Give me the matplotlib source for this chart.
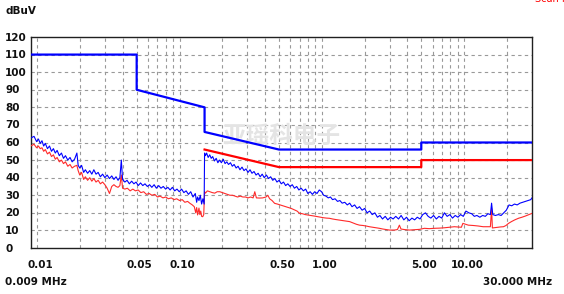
import matplotlib
matplotlib.use('Agg')
import matplotlib.pyplot as plt
from matplotlib import transforms

plt.rcParams['font.family'] = ['DejaVu Sans', 'Noto Sans CJK SC']

# 限值线 (频率 MHz, dBuV)
lim_qp_f = [0.009, 0.05, 0.05, 0.15, 0.15, 0.5, 5, 5, 30]
lim_qp_v = [110, 110, 90, 80, 66, 56, 56, 60, 60]
lim_av_f = [0.15, 0.5, 5, 5, 30]
lim_av_v = [56, 46, 46, 50, 50]

# 峰值扫描 (蓝)
pk_f = [0.009, 0.0095, 0.0099, 0.0102, 0.0105, 0.0108, 0.0111, 0.0114, 0.0118, 0.0122,
        0.0126, 0.0130, 0.0134, 0.0138, 0.0143, 0.0148, 0.0153, 0.0158, 0.0164, 0.0170,
        0.0176, 0.0183, 0.0190, 0.0194, 0.0199, 0.0205, 0.0212, 0.0218, 0.0226, 0.0234,
        0.0242, 0.0250, 0.0259, 0.0268, 0.0278, 0.0288, 0.0299, 0.0310, 0.0322, 0.0334,
        0.0346, 0.0358, 0.0370, 0.0381, 0.0390, 0.0398, 0.0413, 0.0428, 0.0444, 0.0461,
        0.0478, 0.0495, 0.0513, 0.0532, 0.0552, 0.0572, 0.0594, 0.0616, 0.0639, 0.0663,
        0.0688, 0.0714, 0.0741, 0.0769, 0.0798, 0.0828, 0.0859, 0.0891, 0.0925, 0.0960,
        0.0996, 0.1034, 0.1073, 0.1113, 0.1155, 0.1199, 0.1244, 0.1291, 0.1320, 0.1340,
        0.1370, 0.1400, 0.1430, 0.1460, 0.1490, 0.1500, 0.152, 0.155, 0.159, 0.163,
        0.167, 0.171, 0.176, 0.181, 0.186, 0.191, 0.197, 0.203, 0.209, 0.215,
        0.221, 0.228, 0.235, 0.242, 0.250, 0.258, 0.266, 0.275, 0.284, 0.293,
        0.303, 0.313, 0.323, 0.334, 0.345, 0.357, 0.369, 0.381, 0.394, 0.408,
        0.422, 0.437, 0.452, 0.468, 0.484, 0.501, 0.519, 0.538, 0.557, 0.577,
        0.598, 0.620, 0.642, 0.666, 0.690, 0.716, 0.742, 0.770, 0.798, 0.828,
        0.859, 0.891, 0.925, 0.96, 0.996, 1.03, 1.07, 1.11, 1.15, 1.19,
        1.24, 1.29, 1.34, 1.39, 1.45, 1.51, 1.57, 1.63, 1.70, 1.77,
        1.84, 1.92, 2.00, 2.08, 2.17, 2.26, 2.36, 2.46, 2.56, 2.67,
        2.79, 2.91, 3.04, 3.17, 3.31, 3.46, 3.61, 3.77, 3.94, 4.11,
        4.30, 4.49, 4.69, 4.90, 5.12, 5.35, 5.59, 5.84, 6.10, 6.38,
        6.66, 6.96, 7.27, 7.60, 7.94, 8.29, 8.66, 9.05, 9.45, 9.87,
        10.3, 10.8, 11.3, 11.8, 12.3, 12.9, 13.5, 14.1, 14.7, 15.3,
        15.6, 15.9, 16.6, 17.4, 18.2, 19.0, 19.8, 20.7, 21.6, 22.6,
        23.6, 24.7, 25.8, 27.0, 28.2, 29.4, 30.0]
pk_v = [62.5, 63.5, 60.5, 62, 59.5, 61, 58, 59.5, 56.5, 58,
        55, 56.5, 54, 55.5, 52.5, 54, 51, 52.5, 50, 51.5,
        49, 50.5, 54, 47, 45.5, 47, 43, 44.5, 42.5, 44,
        42, 44.5, 42, 43, 40.5, 42, 40, 41.5, 39.5, 41,
        39, 40.5, 38.5, 40, 50, 39, 37.5, 38.5, 36.5, 38,
        36.5, 37.5, 35.5, 37, 35.5, 36.5, 35, 36, 34.5, 36,
        34, 35.5, 34, 35, 33.5, 34.5, 33, 34.5, 32.5, 33.5,
        32, 33.5, 31.5, 32.5, 30.5, 32, 29, 31, 26, 29,
        27, 30, 25, 28, 25, 54, 52.5, 54, 51.5, 53,
        51, 52, 49.5, 51, 48.5, 50, 48.5, 50.5, 48, 49,
        47.5, 48.5, 46.5, 47.5, 45.5, 46.5, 44.5, 46, 44, 45,
        43, 44.5, 42.5, 43.5, 41.5, 42.5, 40.5, 42, 40, 41.5,
        39.5, 40.5, 38.5, 39.5, 37.5, 38.5, 36.5, 37.5, 35.5, 36.5,
        35, 36, 34, 35, 33, 34, 32.5, 33.5, 31, 32,
        30.5, 32, 31, 33, 32, 30, 29.5, 28.5, 29, 27.5,
        28, 26.5, 27, 25.5, 26, 24.5, 25.5, 23.5, 24.5, 22.5,
        23.5, 21.5, 22.5, 20, 21, 19, 20, 17.5, 18.5, 16.5,
        18, 16, 17.5, 16.5, 18, 16.5, 18.5, 16, 17.5, 15.5,
        17, 16, 17.5, 16.5, 19, 20, 18, 17, 18.5, 16.5,
        18, 17, 20, 18, 19, 17, 18.5, 17.5, 19, 18,
        21, 20, 19.5, 18, 18.5, 17.5, 18.5, 18, 19.5, 19,
        25.5, 19, 18.5, 19, 18.5, 20, 21.5, 24.5, 24, 25,
        24.5, 25.5, 26, 26.5, 27, 27.5, 28.5]

# 平均值扫描 (红)
av_f = [0.009, 0.0095, 0.0099, 0.0102, 0.0105, 0.0108, 0.0111, 0.0114, 0.0118, 0.0122,
        0.0126, 0.0130, 0.0134, 0.0138, 0.0143, 0.0148, 0.0153, 0.0158, 0.0164, 0.0170,
        0.0176, 0.0183, 0.0190, 0.0194, 0.0199, 0.0205, 0.0212, 0.0218, 0.0226, 0.0234,
        0.0242, 0.0250, 0.0259, 0.0268, 0.0278, 0.0288, 0.0299, 0.0310, 0.0322, 0.0334,
        0.0346, 0.0358, 0.0370, 0.0381, 0.0390, 0.0398, 0.0413, 0.0430, 0.0450, 0.0470,
        0.0490, 0.0512, 0.0535, 0.0560, 0.0585, 0.0612, 0.0640, 0.0670, 0.0700, 0.0730,
        0.0765, 0.0800, 0.0835, 0.0875, 0.0915, 0.0955, 0.1000, 0.1045, 0.1090, 0.1140,
        0.1180, 0.1230, 0.1270, 0.1300, 0.1320, 0.1340, 0.1370, 0.1390, 0.1410, 0.1430,
        0.1456, 0.1480, 0.1500, 0.152, 0.157, 0.163, 0.170, 0.177, 0.184, 0.192,
        0.200, 0.208, 0.217, 0.226, 0.236, 0.246, 0.256, 0.267, 0.279, 0.291,
        0.303, 0.316, 0.329, 0.338, 0.347, 0.366, 0.385, 0.405, 0.417, 0.430,
        0.447, 0.466, 0.487, 0.510, 0.533, 0.557, 0.583, 0.610, 0.644, 0.670,
        0.698, 0.730, 0.765, 0.800, 0.840, 0.880, 0.934, 0.98, 1.03, 1.08,
        1.13, 1.19, 1.25, 1.33, 1.40, 1.48, 1.57, 1.66, 1.75, 1.84,
        1.95, 2.05, 2.16, 2.28, 2.40, 2.54, 2.68, 2.83, 2.99, 3.24,
        3.40, 3.51, 3.60, 3.80, 4.13, 4.50, 4.86, 5.26, 5.70, 6.19,
        6.70, 7.27, 7.90, 8.54, 9.20, 9.57, 9.80, 10.7, 11.6, 12.6,
        13.6, 14.5, 15.3, 15.6, 15.8, 16.5, 17.4, 18.1, 18.9, 19.7,
        20.5, 21.5, 22.7, 24.1, 25.5, 27.0, 28.5, 30.0]
av_v = [58, 59, 57, 58, 56.5, 57, 55, 56, 53.5, 54.5,
        52, 53, 50.5, 51.5, 49, 50, 48, 49, 46.5, 47.5,
        45.5, 46.5, 47, 44, 41.5, 43, 39, 40.5, 38.5, 40,
        38, 39.5, 37.5, 38.5, 36.5, 37.5, 36, 34, 31, 35,
        36, 35, 34.5, 35.5, 41.5, 34, 33.5, 34, 32.5, 33.5,
        32.5, 33, 31.5, 32, 30.5, 31, 30, 30.5, 29, 29.5,
        28.5, 29, 28, 28.5, 27.5, 28, 27, 27.5, 26, 26.5,
        25.5, 24.5, 23.5, 20, 23, 18.8, 22.7, 19, 21, 18,
        17.8, 19, 32, 31.2, 32.5, 32, 31.5, 31.2, 32, 32,
        31.5, 31, 30.5, 30, 30, 29.5, 29, 29.5, 29, 29,
        28.5, 29, 28.5, 32, 28.5, 28.4, 28.5, 29, 30, 28,
        27, 25.4, 25, 24.5, 24, 23.5, 23, 22.5, 21.6, 21,
        19.7, 19.5, 19, 18.75, 18.5, 18.2, 17.8, 17.5, 17.2, 17,
        16.9, 16.5, 16.2, 15.9, 15.6, 15.3, 15, 14.2, 13.5, 13,
        12.8, 12.5, 12.1, 11.8, 11.5, 11.2, 10.8, 10.5, 10.2, 10.2,
        10.5, 13, 10.8, 10.5, 10.2, 10.4, 10.6, 11.2, 11, 11.2,
        11.3, 11.5, 11.8, 12.1, 11.9, 11.8, 14, 13, 12.8, 12.5,
        12.1, 12.1, 12.1, 22.5, 11.4, 11.6, 11.8, 12, 12.1, 12.8,
        14, 15, 16, 16.9, 17.5, 18.2, 19, 19.7]

y_levels = [0, 10, 20, 30, 40, 50, 60, 70, 80, 90, 100, 110, 120]
grid_f = [0.01, 0.02, 0.03, 0.04, 0.05, 0.06, 0.07, 0.08, 0.09,
          0.1, 0.2, 0.3, 0.4, 0.5, 0.6, 0.7, 0.8, 0.9,
          1, 2, 3, 4, 5, 6, 7, 8, 9, 10, 20]
xtick_f = [0.01, 0.05, 0.1, 0.5, 1, 5, 10]
xtick_lab = ['0.01', '0.05', '0.10', '0.50', '1.00', '5.00', '10.00']

fig = plt.figure(figsize=(5.64, 2.94), dpi=100)
ax = fig.add_axes([30.7 / 564, 1 - 248 / 294, (532 - 30.7) / 564, (248 - 37) / 294])
ax.set_xscale('log')
ax.set_xlim(0.009, 30)
ax.set_ylim(0, 120)
ax.set_xticks([])
ax.set_yticks([])
ax.minorticks_off()
for s in ax.spines.values():
    s.set_color('#202020')
    s.set_linewidth(1.0)

# 网格
for f in grid_f:
    ax.axvline(f, color='#999999', lw=0.8, ls=(0, (3, 3)), zorder=1)
for v in y_levels[1:-1]:
    ax.axhline(v, color='#999999', lw=0.8, ls=(0, (3, 3)), zorder=1)

# 水印
ax.text(0.5, 0.53, '亚瑶科电子', transform=ax.transAxes, fontsize=17, fontweight='bold',
        color='#e4e4e4', ha='center', va='center', family=['Noto Sans CJK SC'], zorder=2)

ax.plot(av_f, av_v, color='#ff2a2a', lw=0.8, zorder=3)
ax.plot(pk_f, pk_v, color='#0000ff', lw=0.8, zorder=4)
ax.plot(lim_av_f, lim_av_v, color='#ff0000', lw=1.6, zorder=5)
ax.plot(lim_qp_f, lim_qp_v, color='#0000ff', lw=1.6, zorder=5)

# 坐标标签
ytrans = transforms.blended_transform_factory(fig.transFigure, ax.transData)
for v in y_levels:
    ax.text(5 / 564, v - 0.3, str(v), transform=ytrans, ha='left', va='center',
            fontsize=7.5, fontweight='bold', color='#101010')

xtrans = transforms.offset_copy(
    transforms.blended_transform_factory(ax.transData, fig.transFigure), fig=fig, x=3, units='dots')
for f, lab in zip(xtick_f, xtick_lab):
    ax.text(f, 1 - 264.5 / 294, lab, transform=xtrans, ha='center', va='center',
            fontsize=7.5, fontweight='bold', color='#101010')

fig.text(5 / 564, 1 - 282 / 294, '0.009 MHz', ha='left', va='center',
         fontsize=7.5, fontweight='bold', color='#101010')
fig.text(552 / 564, 1 - 282 / 294, '30.000 MHz', ha='right', va='center',
         fontsize=7.5, fontweight='bold', color='#101010')
fig.text(5 / 564, 1 - 11 / 294, 'dBuV', ha='left', va='center',
         fontsize=7.5, fontweight='bold', color='#101010')
fig.text(535 / 564, 1.004, 'Scan Result', ha='left', va='center',
         fontsize=7, color='#ff0000')

fig.savefig('out.png', dpi=100)
